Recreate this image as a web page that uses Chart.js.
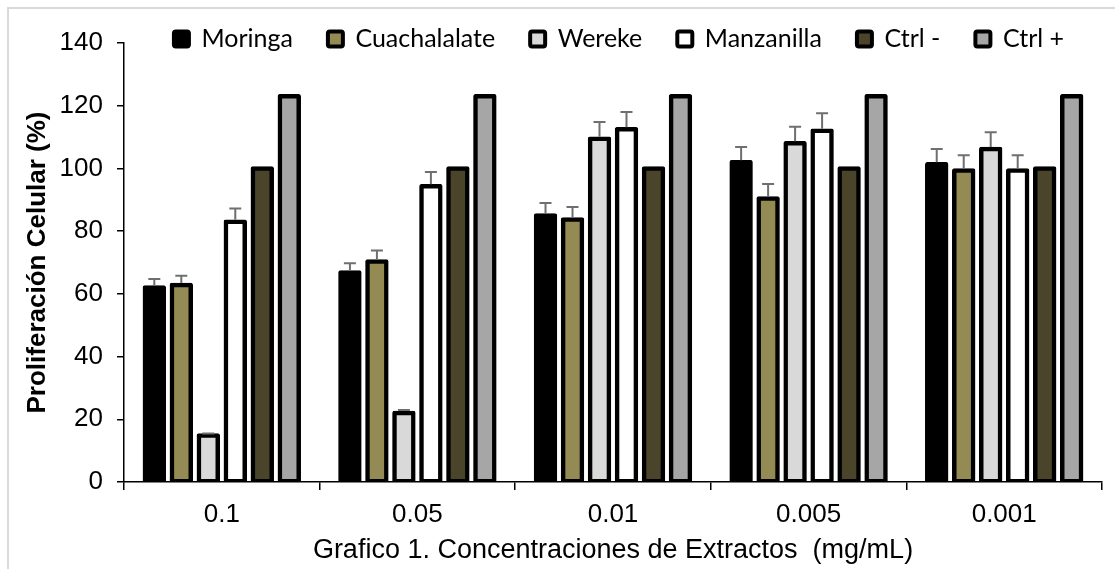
<!DOCTYPE html>
<html>
<head>
<meta charset="utf-8">
<script src="https://cdn.jsdelivr.net/npm/chart.js@4.4.1/dist/chart.umd.min.js"></script>
<style>
  html, body { margin: 0; padding: 0; background: #ffffff; }
  canvas { display: block; }
</style>
</head>
<body>
<canvas id="chart" width="1115" height="569"></canvas>
<script>
// Extract concentrations (mg/mL) on the category axis
const categories = ['0.1', '0.05', '0.01', '0.005', '0.001'];

// Cell proliferation (%) per extract, with the upper error (SD)
const moringa         = [62.0, 66.8, 85.0, 102.0, 101.3];
const moringaErr      = [2.7, 3.0, 4.0, 4.8, 4.9];
const cuachalalate    = [62.8, 70.3, 83.7, 90.4, 99.3];
const cuachalalateErr = [3.0, 3.5, 4.0, 4.6, 4.9];
const wereke          = [14.8, 22.0, 109.5, 108.0, 106.2];
const werekeErr       = [0.7, 1.0, 5.3, 5.3, 5.3];
const manzanilla      = [83.0, 94.3, 112.5, 112.0, 99.3];
const manzanillaErr   = [4.2, 4.6, 5.5, 5.6, 4.9];
const ctrlNeg         = [100, 100, 100, 100, 100];
const ctrlPos         = [123, 123, 123, 123, 123];

// Value-axis tick labels
const yTicks = [0, 20, 40, 60, 80, 100, 120, 140];

// Fill colours, one per series
const fills = ['#000000', '#948A54', '#D9D9D9', '#FFFFFF', '#4A452A', '#A6A6A6'];

// Outline is centred on the bar edge (inflated by half the border width)
const barStyle = {
  borderColor: '#000000',
  borderWidth: 4.5,
  borderSkipped: false,
  borderRadius: 2,
  inflateAmount: 2.25,
  categoryPercentage: 0.828,
  barPercentage: 0.70
};

const datasets = [
  { label: 'Moringa',      data: moringa,      errors: moringaErr },
  { label: 'Cuachalalate', data: cuachalalate, errors: cuachalalateErr },
  { label: 'Wereke',       data: wereke,       errors: werekeErr },
  { label: 'Manzanilla',   data: manzanilla,   errors: manzanillaErr },
  { label: 'Ctrl -',       data: ctrlNeg },
  { label: 'Ctrl +',       data: ctrlPos }
].map((d, i) => Object.assign({}, barStyle, d, { backgroundColor: fills[i] }));

// Upward error whiskers with caps, placed through the y scale
const errorBars = {
  id: 'errorBars',
  afterDatasetsDraw(chart) {
    const ctx = chart.ctx;
    const y = chart.scales.y;
    ctx.save();
    ctx.strokeStyle = '#6f6f6f';
    ctx.lineWidth = 2;
    chart.data.datasets.forEach((ds, i) => {
      if (!ds.errors) return;
      chart.getDatasetMeta(i).data.forEach((bar, j) => {
        const top = y.getPixelForValue(ds.data[j] + ds.errors[j]);
        const x = bar.x;
        ctx.beginPath();
        ctx.moveTo(x, bar.y - 2);
        ctx.lineTo(x, top);
        ctx.moveTo(x - 6, top);
        ctx.lineTo(x + 6, top);
        ctx.stroke();
      });
    });
    ctx.restore();
  }
};

// White page with the light grey outline along the top and left
const frame = {
  id: 'frame',
  beforeDraw(chart) {
    const ctx = chart.ctx;
    ctx.save();
    ctx.fillStyle = '#ffffff';
    ctx.fillRect(0, 0, chart.width, chart.height);
    ctx.strokeStyle = '#D9D9D9';
    ctx.lineWidth = 2;
    ctx.beginPath();
    ctx.moveTo(8, chart.height);
    ctx.lineTo(8, 8);
    ctx.lineTo(chart.width, 8);
    ctx.stroke();
    ctx.restore();
  }
};

// Legend row sits across the top edge of the plot
const legendMidY = 39;
const legendShiftX = 62;
const legendPlacement = {
  id: 'legendPlacement',
  afterLayout(chart) {
    const lg = chart.legend;
    const o = lg.options.labels;
    const dy = legendMidY - (lg.top + o.padding + o.font.size / 2);
    lg.top += dy;
    lg.bottom = lg.top + o.padding * 2 + o.font.size + 10;
    lg.height = lg.bottom - lg.top;
    lg.left += legendShiftX; lg.right += legendShiftX;
  }
};

const axisFont = { family: 'Liberation Sans', size: 26 };

new Chart(document.getElementById('chart'), {
  type: 'bar',
  data: { labels: categories, datasets },
  plugins: [frame, errorBars, legendPlacement],
  options: {
    responsive: false,
    animation: false,
    devicePixelRatio: 1,
    layout: { padding: { left: 12, top: 0, right: 13, bottom: 0 } },
    plugins: {
      tooltip: { enabled: false },
      legend: {
        position: 'top',
        maxHeight: 43,
        labels: {
          font: { family: 'Lato', size: 25 },
          color: '#000000',
          boxWidth: 15,
          boxHeight: 15,
          padding: 35,
          useBorderRadius: true,
          borderRadius: 2,
          generateLabels(chart) {
            const items = Chart.defaults.plugins.legend.labels.generateLabels(chart);
            items.forEach(it => { it.lineWidth = 4; it.strokeStyle = '#000000'; });
            return items;
          }
        }
      }
    },
    scales: {
      x: {
        grid: { display: true, drawOnChartArea: false, offset: true, color: '#000000', lineWidth: 1.5, tickLength: 8 },
        border: { display: true, color: '#000000', width: 1.5 },
        ticks: { font: axisFont, color: '#000000', padding: 9, maxRotation: 0 },
        title: {
          display: true,
          text: 'Grafico 1. Concentraciones de Extractos  (mg/mL)',
          font: { family: 'Liberation Sans', size: 27 },
          color: '#000000',
          padding: { top: 0, bottom: 2 }
        },
        afterFit(s) { s.height = 87; }
      },
      y: {
        min: 0,
        max: 140,
        afterBuildTicks(s) { s.ticks = yTicks.map(v => ({ value: v })); },
        grid: { display: true, drawOnChartArea: false, color: '#000000', lineWidth: 1.5, tickLength: 7 },
        border: { display: true, color: '#000000', width: 1.5 },
        ticks: { font: axisFont, color: '#000000', padding: 14 },
        title: {
          display: true,
          text: 'Proliferación Celular (%)',
          font: { family: 'Liberation Sans', size: 26, weight: 'bold' },
          color: '#000000',
          padding: { top: 10, bottom: 0 }
        },
        afterFit(s) { s.width = 112; }
      }
    }
  }
});
</script>
</body>
</html>
